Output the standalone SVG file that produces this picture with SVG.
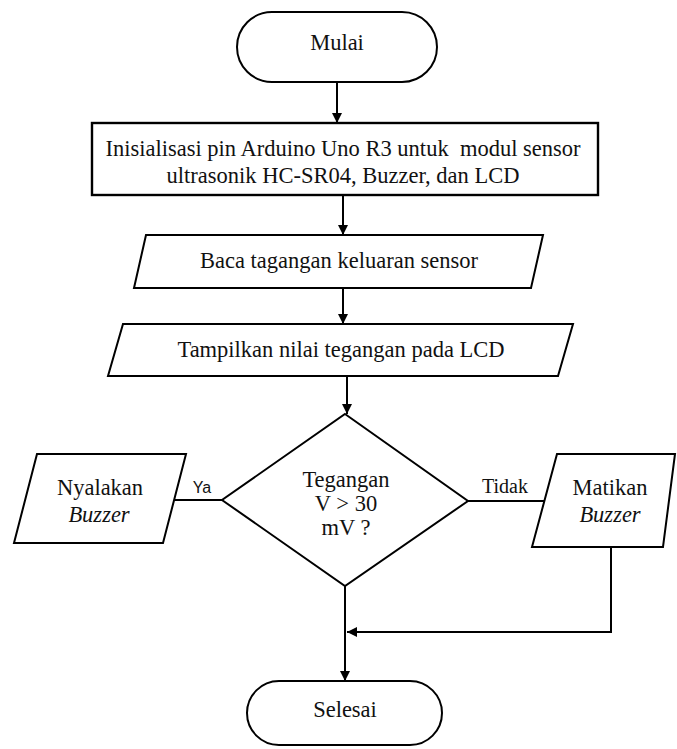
<svg xmlns="http://www.w3.org/2000/svg" width="677" height="749" viewBox="0 0 677 749">
<defs>
<marker id="ah" markerUnits="userSpaceOnUse" markerWidth="10" markerHeight="10" refX="10" refY="5" orient="auto">
<path d="M0,0 L10,5 L0,10 z" fill="#000"/>
</marker>
<style>
.shape{fill:#fff;stroke:#000;stroke-width:2}
.t{font-family:"Liberation Serif","Times New Roman",serif;font-size:22.5px;fill:#111;text-anchor:middle}
.i{font-style:italic}
.lbl{font-family:"Liberation Sans",Arial,sans-serif;font-size:16px;fill:#111;text-anchor:middle}
.lbs{font-family:"Liberation Serif","Times New Roman",serif;font-size:20px;fill:#111;text-anchor:middle}
.c{fill:none;stroke:#000;stroke-width:2}
</style>
</defs>
<rect width="677" height="749" fill="#fff"/>
<g id="connectors">
<line class="c" x1="337" y1="82" x2="337" y2="123" marker-end="url(#ah)"/>
<line class="c" x1="343" y1="195" x2="343" y2="235" marker-end="url(#ah)"/>
<line class="c" x1="343" y1="288" x2="343" y2="324" marker-end="url(#ah)"/>
<line class="c" x1="347" y1="376" x2="347" y2="414" marker-end="url(#ah)"/>
<line class="c" x1="174" y1="500" x2="222" y2="500"/>
<line class="c" x1="468" y1="501" x2="544" y2="501"/>
<polyline class="c" points="611,547 611,632 347,632" marker-end="url(#ah)"/>
<line class="c" x1="345" y1="586" x2="345" y2="681" marker-end="url(#ah)"/>
<text class="lbl" x="202" y="493">Ya</text>
<text class="lbs" x="505" y="493">Tidak</text>
</g>
<g id="mulai">
<rect class="shape" x="237" y="12" width="200" height="70" rx="35"/>
<text class="t" x="337" y="50">Mulai</text>
</g>
<g id="inisialisasi">
<rect class="shape" x="92" y="123" width="506" height="72" style="stroke-width:2.4"/>
<text class="t" x="343" y="156">Inisialisasi pin Arduino Uno R3 untuk&#160; modul sensor</text>
<text class="t" x="343" y="183">ultrasonik HC-SR04, Buzzer, dan LCD</text>
</g>
<g id="baca">
<polygon class="shape" points="146,235 543,235 531,288 134,288"/>
<text class="t" x="339" y="268">Baca tagangan keluaran sensor</text>
</g>
<g id="tampilkan">
<polygon class="shape" points="123,324 573,324 558,376 108,376"/>
<text class="t" x="341" y="357">Tampilkan nilai tegangan pada LCD</text>
</g>
<g id="keputusan">
<polygon class="shape" points="345,414 468,501 345,586 222,500"/>
<text class="t" x="346" y="487">Tegangan</text>
<text class="t" x="346" y="511">V &gt; 30</text>
<text class="t" x="346" y="535">mV ?</text>
</g>
<g id="nyalakan">
<polygon class="shape" points="37,454 186,454 163,543 14,543"/>
<text class="t" x="100" y="495">Nyalakan</text>
<text class="t i" x="99" y="522">Buzzer</text>
</g>
<g id="matikan">
<polygon class="shape" points="557,454 675,454 663,547 532,547"/>
<text class="t" x="610" y="495">Matikan</text>
<text class="t i" x="610" y="522">Buzzer</text>
</g>
<g id="selesai">
<rect class="shape" x="247" y="681" width="195" height="64" rx="32"/>
<text class="t" x="345" y="717">Selesai</text>
</g>
</svg>
